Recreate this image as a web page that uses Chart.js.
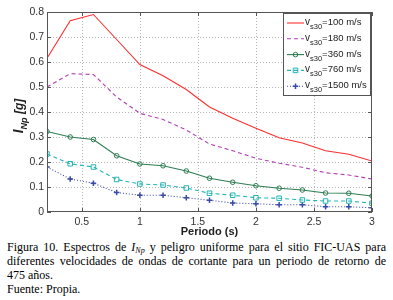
<!DOCTYPE html>
<html>
<head>
<meta charset="utf-8">
<script src="https://cdn.jsdelivr.net/npm/chart.js@4.4.1/dist/chart.umd.min.js"></script>
<style>
  body { margin: 0; background: #fff; width: 393px; height: 300px; overflow: hidden; }
  #wrap { position: relative; width: 393px; height: 238px; }
  .cap {
    font-family: "Liberation Serif", "Times New Roman", serif;
    font-size: 12px; line-height: 14px; color: #000;
    margin: 2px 7px 0 7px;
  }
  .cap div { white-space: nowrap; height: 14px; }
  .cap .j { text-align: justify; text-align-last: justify; white-space: normal; }
  .cap sub { font-size: 8px; line-height: 0; vertical-align: -2px; }
</style>
</head>
<body>
<div id="wrap"><canvas id="chart" width="393" height="238"></canvas></div>
<div class="cap">
  <div class="j">Figura 10. Espectros de <i>I<sub>Np</sub></i> y peligro uniforme para el sitio FIC-UAS para</div>
  <div class="j">diferentes velocidades de ondas de cortante para un periodo de retorno de</div>
  <div>475 años.</div>
  <div>Fuente: Propia.</div>
</div>
<script>
// periods (s)
const periods = [0.2, 0.4, 0.6, 0.8, 1.0, 1.2, 1.4, 1.6, 1.8, 2.0, 2.2, 2.4, 2.6, 2.8, 3.0];

// INp [g] for each Vs30
const vs100  = [0.615, 0.765, 0.79, 0.69, 0.59, 0.545, 0.49, 0.42, 0.375, 0.335, 0.297, 0.276, 0.245, 0.231, 0.204];
const vs180  = [0.50, 0.553, 0.55, 0.46, 0.395, 0.37, 0.328, 0.272, 0.245, 0.215, 0.195, 0.179, 0.157, 0.148, 0.132];
const vs360  = [0.322, 0.30, 0.29, 0.225, 0.192, 0.185, 0.164, 0.135, 0.119, 0.105, 0.095, 0.088, 0.076, 0.075, 0.064];
const vs760  = [0.232, 0.193, 0.18, 0.13, 0.112, 0.108, 0.096, 0.075, 0.067, 0.057, 0.055, 0.048, 0.044, 0.044, 0.035];
const vs1500 = [0.18, 0.132, 0.115, 0.078, 0.067, 0.067, 0.057, 0.047, 0.036, 0.033, 0.029, 0.029, 0.021, 0.021, 0.017];

const legendVals = ["=100 m/s", "=180 m/s", "=360 m/s", "=760 m/s", "=1500 m/s"];
const xTicks = [0.5, 1, 1.5, 2, 2.5, 3];

function pts(arr) {
  return arr.map((v, i) => ({ x: periods[i], y: v }));
}

const datasets = [
  { data: pts(vs100), borderColor: "#ff2e2e", borderWidth: 1.1, pointRadius: 0 },
  { data: pts(vs180), borderColor: "#b040b4", borderWidth: 1.1, borderDash: [4, 3], pointRadius: 0 },
  { data: pts(vs360), borderColor: "#2e7d52", borderWidth: 1.1, pointStyle: "circle", pointRadius: 2.3,
    pointBackgroundColor: "rgba(255,255,255,0)", pointBorderColor: "#2e7d52", pointBorderWidth: 1 },
  { data: pts(vs760), borderColor: "#26b4b4", borderWidth: 1.1, borderDash: [4, 3], pointStyle: "rect", pointRadius: 3.2,
    pointBackgroundColor: "rgba(255,255,255,0)", pointBorderColor: "#26b4b4", pointBorderWidth: 1 },
  { data: pts(vs1500), borderColor: "#3a4aa8", borderWidth: 1.1, borderDash: [1, 2], pointStyle: "cross", pointRadius: 2.8,
    pointBorderColor: "#3a4aa8", pointBorderWidth: 1.5 },
];

const FONT = "'Liberation Sans', Arial, sans-serif";

// MATLAB style dotted grid, frame, inner ticks, axis titles and legend
const decor = {
  id: "decor",
  beforeDatasetsDraw(chart) {
    const ctx = chart.ctx;
    const a = chart.chartArea;
    const xs = chart.scales.x, ys = chart.scales.y;
    ctx.save();
    ctx.strokeStyle = "#b4b4b4";
    ctx.lineWidth = 1;
    ctx.setLineDash([1, 2]);
    ctx.beginPath();
    xTicks.forEach((t) => {
      const px = Math.round(xs.getPixelForValue(t)) + 0.5;
      if (px > a.right - 2) return;
      ctx.moveTo(px, a.top); ctx.lineTo(px, a.bottom);
    });
    ys.ticks.forEach((t) => {
      const py = Math.round(ys.getPixelForValue(t.value)) + 0.5;
      if (py < a.top + 2 || py > a.bottom - 2) return;
      ctx.moveTo(a.left, py); ctx.lineTo(a.right, py);
    });
    ctx.stroke();
    ctx.restore();
  },
  afterDraw(chart) {
    const ctx = chart.ctx;
    const a = chart.chartArea;
    const xs = chart.scales.x, ys = chart.scales.y;
    ctx.save();
    ctx.strokeStyle = "#555";
    ctx.lineWidth = 1;
    ctx.setLineDash([]);
    ctx.strokeRect(a.left + 0.5, a.top + 0.5, a.right - a.left - 1, a.bottom - a.top - 1);
    ctx.beginPath();
    xTicks.forEach((t) => {
      const px = Math.round(xs.getPixelForValue(t)) + 0.5;
      ctx.moveTo(px, a.bottom); ctx.lineTo(px, a.bottom - 4);
      ctx.moveTo(px, a.top); ctx.lineTo(px, a.top + 4);
    });
    ys.ticks.forEach((t) => {
      const py = Math.round(ys.getPixelForValue(t.value)) + 0.5;
      ctx.moveTo(a.left, py); ctx.lineTo(a.left + 4, py);
      ctx.moveTo(a.right, py); ctx.lineTo(a.right - 4, py);
    });
    ctx.stroke();

    // x title
    ctx.fillStyle = "#222";
    ctx.font = "bold 11px " + FONT;
    ctx.textAlign = "center";
    ctx.textBaseline = "alphabetic";
    ctx.fillText("Periodo (s)", (a.left + a.right) / 2, 235);

    // y title: I_Np [g]
    ctx.save();
    ctx.translate(23, 116);
    ctx.rotate(-Math.PI / 2);
    ctx.textAlign = "left";
    const f1 = "italic bold 14px " + FONT;
    const f2 = "italic bold 9px " + FONT;
    const f3 = "italic bold 12px " + FONT;
    ctx.font = f1; const w1 = ctx.measureText("I").width;
    ctx.font = f2; const w2 = ctx.measureText("Np").width;
    ctx.font = f3; const w3 = ctx.measureText(" [g]").width;
    let x0 = -(w1 + w2 + w3) / 2;
    ctx.font = f1; ctx.fillText("I", x0, 0); x0 += w1;
    ctx.font = f2; ctx.fillText("Np", x0, 4); x0 += w2;
    ctx.font = f3; ctx.fillText(" [g]", x0, 0);
    ctx.restore();

    // legend
    const lx = 283, ly = 13, lw = 87, lh = 82;
    ctx.fillStyle = "#fff";
    ctx.fillRect(lx, ly, lw, lh);
    ctx.strokeStyle = "#555";
    ctx.strokeRect(lx + 0.5, ly + 0.5, lw, lh);
    datasets.forEach((d, i) => {
      const y = 23 + i * 15.8;
      ctx.strokeStyle = d.borderColor;
      ctx.lineWidth = 1.1;
      ctx.setLineDash(d.borderDash || []);
      ctx.beginPath(); ctx.moveTo(287, y); ctx.lineTo(304, y); ctx.stroke();
      ctx.setLineDash([]);
      if (d.pointRadius > 0) {
        ctx.lineWidth = d.pointBorderWidth;
        ctx.fillStyle = d.pointBackgroundColor || d.borderColor;
        Chart.helpers.drawPoint(ctx, { pointStyle: d.pointStyle, radius: d.pointRadius, borderWidth: d.pointBorderWidth }, 295.5, y);
      }
      ctx.fillStyle = "#222";
      ctx.textAlign = "left";
      ctx.font = "10px " + FONT;
      ctx.fillText("v", 305, y + 2);
      const vw = ctx.measureText("v").width;
      ctx.font = "7.5px " + FONT;
      ctx.fillText("s30", 305 + vw, y + 6);
      const sw = ctx.measureText("s30").width;
      ctx.font = "9.5px " + FONT;
      ctx.fillText(legendVals[i], 305 + vw + sw, y + 2);
    });
    ctx.restore();
  },
};

new Chart(document.getElementById("chart"), {
  type: "line",
  data: { datasets },
  options: {
    responsive: false,
    animation: false,
    layout: { padding: { top: 12, right: 21, left: 0, bottom: 0 } },
    plugins: { legend: { display: false }, tooltip: { enabled: false } },
    elements: { line: { tension: 0 } },
    scales: {
      x: {
        type: "linear",
        min: 0.2, max: 3,
        afterBuildTicks: (s) => { s.ticks = xTicks.map((v) => ({ value: v })); },
        afterFit: (s) => { s.height = 26; },
        grid: { display: false, drawTicks: false },
        border: { display: false },
        ticks: { color: "#333", padding: 4, font: { family: FONT, size: 10.5 },
          callback: (v) => String(v) },
      },
      y: {
        min: 0, max: 0.8,
        afterFit: (s) => { s.width = 47; },
        grid: { display: false, drawTicks: false },
        border: { display: false },
        ticks: { stepSize: 0.1, color: "#333", padding: 3, font: { family: FONT, size: 10.5 },
          callback: (v) => String(Math.round(v * 10) / 10) },
      },
    },
  },
  plugins: [decor],
});
</script>
</body>
</html>
